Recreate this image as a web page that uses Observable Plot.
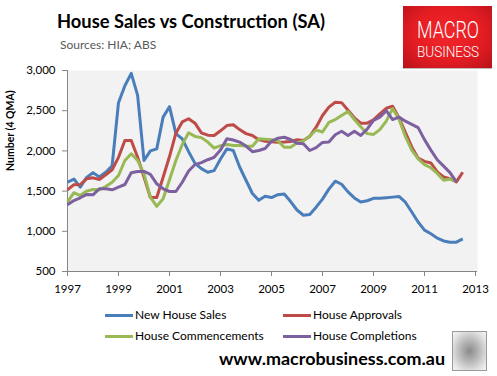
<!DOCTYPE html>
<html><head><meta charset="utf-8">
<script src="https://cdn.jsdelivr.net/npm/d3@7"></script>
<script src="https://cdn.jsdelivr.net/npm/@observablehq/plot@0.6"></script>
<style>
body{margin:0;background:#fff;}
#wrap{position:relative;width:497px;height:376px;overflow:hidden;font-family:Lato,"Liberation Sans",sans-serif;color:#000;}
.abs{position:absolute;white-space:nowrap;}
#title{left:57px;top:9px;font-weight:bold;font-size:19.5px;transform-origin:left center;}
#sub{left:60px;top:37px;font-size:12px;color:#595959;}
#logo{left:403px;top:6px;width:89px;height:62px;background:radial-gradient(ellipse at 50% 45%,#f2262b 0%,#e41d23 55%,#b9121a 100%);box-shadow:0 1px 0 #bbb;}
#logo .m{position:absolute;color:#fff;font-family:Roboto,"Liberation Sans",sans-serif;font-weight:300;white-space:nowrap;transform-origin:left center;}
#chart{left:0;top:60px;}
.leg{font-size:12px;}
.sw{position:absolute;width:28px;height:3px;}
#foot{left:219px;top:348px;font-weight:bold;font-size:17.5px;transform-origin:left center;}
#wolf{left:452px;top:331px;width:33px;height:38px;border:1px solid #9a9a9a;background:radial-gradient(ellipse at 50% 50%,#8a8a8a 0%,#bdbdbd 45%,#e6e6e6 80%,#f4f4f4 100%);}
</style></head>
<body><div id="wrap">
<div id="title" class="abs">House Sales vs Construction (SA)</div>
<div id="sub" class="abs">Sources: HIA; ABS</div>
<div id="logo" class="abs"><div id="lm" class="m" style="left:14px;top:14px;font-size:23px;line-height:22px;">MACRO</div><div id="lb" class="m" style="left:14px;top:39px;font-size:15px;line-height:14px;">BUSINESS</div></div>
<div id="chart" class="abs"></div>
<div id="legend"></div>
<div id="foot" class="abs">www.macrobusiness.com.au</div>
<div id="wolf" class="abs"></div>
</div>
<script>
// Quarterly data, first quarter 1997 onward (4-quarter moving average)
const startYear = 1997;
const seriesNames = ["New House Sales", "House Approvals", "House Commencements", "House Completions"];
const seriesColors = ["#4a7ebb", "#be4b48", "#98b954", "#7d60a0"];
const newHouseSales = [
  1610,1650,1550,1670,1730,1675,1735,1815,2600,2810,2965,2690,1880,2000,2025,2420,
  2550,2215,2150,1990,1845,1780,1735,1755,1900,2025,2005,1800,1635,1470,1385,1435,
  1420,1455,1465,1370,1265,1200,1209,1300,1400,1525,1623,1585,1490,1415,1365,1380,
  1410,1412,1418,1425,1433,1362,1240,1115,1015,970,915,880,865,865,905];
const houseApprovals = [
  1515,1580,1582,1653,1665,1645,1703,1765,1920,2130,2130,1920,1675,1420,1420,1673,
  1930,2220,2360,2400,2345,2225,2195,2192,2250,2315,2325,2265,2215,2192,2140,2120,
  2115,2109,2112,2117,2138,2130,2180,2295,2440,2545,2605,2600,2505,2412,2345,2345,
  2385,2460,2530,2555,2410,2230,2050,1910,1870,1850,1740,1675,1655,1615,1735];
const houseCommencements = [
  1362,1480,1445,1500,1520,1516,1557,1611,1694,1881,1964,1881,1715,1425,1310,1404,
  1640,1880,2080,2225,2180,2165,2110,2035,2065,2080,2067,2067,2060,2059,2150,2145,
  2138,2125,2045,2045,2100,2125,2185,2260,2235,2355,2390,2440,2490,2390,2300,2215,
  2205,2265,2370,2525,2395,2180,2010,1900,1830,1790,1720,1635,1650,1625];
const houseCompletions = [
  1330,1383,1417,1458,1454,1529,1529,1516,1549,1582,1728,1744,1744,1707,1591,1529,
  1495,1495,1610,1750,1830,1855,1890,1920,2010,2150,2135,2110,2060,1990,2005,2030,
  2120,2158,2170,2142,2096,2088,2005,2040,2105,2110,2200,2245,2192,2245,2192,2270,
  2380,2420,2500,2390,2420,2370,2330,2290,2140,2010,1890,1810,1730,1615];
const xTicks = [1997,1999,2001,2003,2005,2007,2009,2011,2013];
const yTicks = [500,1000,1500,2000,2500,3000];
const yLabel = "Number (4 QMA)";

const allSeries = [newHouseSales, houseApprovals, houseCommencements, houseCompletions];
const rows = [];
allSeries.forEach((vals, s) => vals.forEach((v, i) => rows.push({t: startYear + i / 4, v, s: seriesNames[s]})));

const axisColor = "#868686";
const chart = Plot.plot({
  width: 497, height: 240,
  marginLeft: 67, marginRight: 20, marginTop: 10, marginBottom: 29,
  style: {fontFamily: "Lato, 'Liberation Sans', sans-serif", fontSize: "11.5px", color: "#000", background: "transparent"},
  x: {domain: [1997, 2013 + 2 / 25.5]},
  y: {domain: [500, 3000]},
  color: {domain: seriesNames, range: seriesColors},
  marks: [
    Plot.frame({fill: "#f2f2f2", stroke: null}),
    Plot.axisY({ticks: yTicks, tickFormat: d3.format(","), tickSize: 5, tickPadding: 7, stroke: axisColor, label: null, fill: "#000"}),
    Plot.axisX({ticks: xTicks, tickFormat: d => String(d), tickSize: 5, tickPadding: 8, stroke: axisColor, label: null, fill: "#000"}),
    Plot.ruleX([1997], {stroke: axisColor, strokeWidth: 1}),
    Plot.ruleY([500], {stroke: axisColor, strokeWidth: 1}),
    Plot.line(rows, {x: "t", y: "v", z: "s", stroke: "s", strokeWidth: 3, strokeLinejoin: "round", strokeLinecap: "butt"}),
    Plot.text([yLabel], {text: d => d, frameAnchor: "left", rotate: -90, dx: -57, fontWeight: "bold", fontSize: 10.5})
  ]
});
document.getElementById("chart").appendChild(chart);

// Legend
const leg = document.getElementById("legend");
const legPos = [[105, 315], [283, 315], [105, 336], [283, 336]];
seriesNames.forEach((name, i) => {
  const [x, y] = legPos[i];
  const sw = document.createElement("div");
  sw.className = "sw"; sw.style.left = x + "px"; sw.style.top = (y - 1.5) + "px"; sw.style.background = seriesColors[i];
  leg.appendChild(sw);
  const t = document.createElement("div");
  t.className = "abs leg"; t.textContent = name; t.style.left = (x + 30) + "px"; t.style.top = (y - 8) + "px";
  leg.appendChild(t);
});

function fit(el, w) { const r = el.getBoundingClientRect().width; el.style.transform = "scaleX(" + (w / r) + ")"; }
fit(document.getElementById("title"), 268);
fit(document.getElementById("foot"), 226);
fit(document.getElementById("lm"), 62);
fit(document.getElementById("lb"), 62);
</script>
</body></html>
